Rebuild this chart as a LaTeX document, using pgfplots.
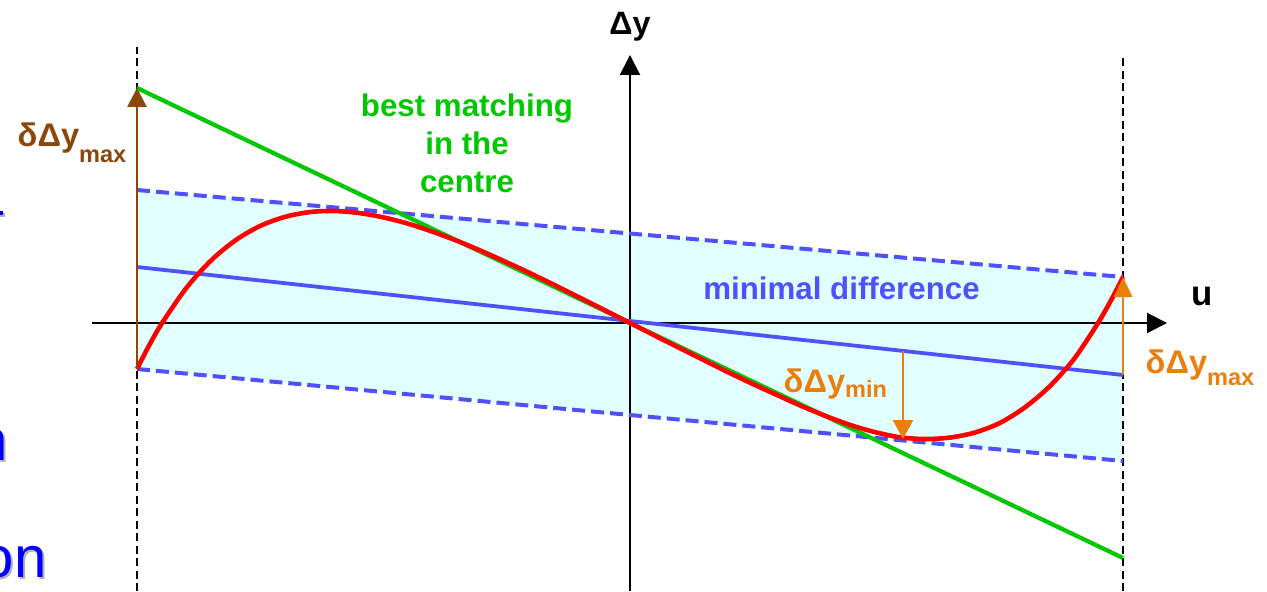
\documentclass[border=0pt]{standalone}
\usepackage{pgfplots}
\pgfplotsset{compat=1.18}
\usetikzlibrary{arrows.meta}
\usepackage{fontspec}
\setmainfont{Liberation Sans}
\definecolor{redc}{RGB}{255,0,0}
\definecolor{greenc}{RGB}{0,200,0}
\definecolor{bluec}{RGB}{80,80,255}
\definecolor{cyanfill}{RGB}{226,255,255}
\definecolor{brownc}{RGB}{140,70,10}
\definecolor{orangec}{RGB}{236,126,12}
\definecolor{slideblue}{RGB}{0,0,255}
\pgfplotstableread{
x y
-493 -46
-488 -36.1
-480.7 -22.1
-468.35 -0.7
-443.7 35.0
-419 62.5
-394.4 82.8
-369.75 97.1
-345.1 106.1
-320.45 110.9
-295.8 112.0
-271.15 110.0
-246.5 105.6
-221.85 99.3
-197.2 91.2
-172.55 82.0
-147.9 71.7
-123.25 60.7
-98.6 49.2
-73.95 37.2
-49.3 24.9
-24.65 12.5
0 0
24.65 -12.5
49.3 -24.9
73.95 -37.2
98.6 -49.5
123.25 -61.2
148 -72.5
172.55 -83.5
197 -93.5
221.85 -102.5
246.5 -109.5
271.15 -114.5
296 -116
320.45 -114.5
345 -109.5
369.75 -100
394 -85
419 -64
444 -36
468 0
480.7 22.1
488 36.1
493 46
}\redcurve
\begin{document}
\begin{tikzpicture}
\useasboundingbox (0,0) rectangle (126.7mm,59.1mm);
\clip (0,0) rectangle (126.7mm,59.1mm);
\begin{axis}[x=0.1mm,y=0.1mm,xmin=-630,xmax=637,ymin=-268,ymax=323,
  hide axis,clip=false,at={(0,0)},anchor=south west,scale only axis]
% band
\addplot[draw=none,fill=cyanfill] coordinates {(-493,133) (493,46) (493,-138) (-493,-46)};
% vertical dashed limits
\addplot[black,line width=0.22mm,dash pattern=on 0.8mm off 0.45mm] coordinates {(-493,-268) (-493,276)};
\addplot[black,line width=0.22mm,dash pattern=on 0.8mm off 0.45mm] coordinates {(493,-268) (493,268)};
% axes
\addplot[black,line width=0.2mm,-{Triangle[width=2mm,length=2mm]}] coordinates {(-538,0) (537,0)};
\addplot[black,line width=0.2mm,-{Triangle[width=2mm,length=2mm]}] coordinates {(0,-268) (0,268)};
% dashed band edges
\addplot[bluec,line width=0.4mm,dash pattern=on 1.3mm off 0.6mm] coordinates {(-493,133) (493,46)};
\addplot[bluec,line width=0.4mm,dash pattern=on 1.3mm off 0.6mm] coordinates {(-493,-46) (493,-138)};
% minimal difference line
\addplot[bluec,line width=0.38mm] coordinates {(-493,56) (493,-52)};
% best matching in the centre
\addplot[greenc,line width=0.42mm] coordinates {(-493,235) (493,-235)};
% red curve
\addplot[redc,line width=0.46mm,smooth] table {\redcurve};
% arrows
\addplot[brownc,line width=0.28mm,-{Triangle[width=1.9mm,length=1.9mm]}] coordinates {(-493,-46) (-493,235)};
\addplot[orangec,line width=0.28mm,-{Triangle[width=1.8mm,length=2mm]}] coordinates {(493,-52) (493,46)};
\addplot[orangec,line width=0.28mm,-{Triangle[width=2mm,length=1.9mm]}] coordinates {(273,-28) (273,-116)};
% labels
\node[anchor=base,inner sep=0,font=\bfseries\fontsize{9.2}{10}\selectfont] at (axis cs:0,288) {Δy};
\node[anchor=base,inner sep=0,font=\bfseries\fontsize{9.9}{11}\selectfont] at (axis cs:572,18) {u};
\node[anchor=base,inner sep=0,text=greenc,font=\bfseries\fontsize{8.9}{10}\selectfont] at (axis cs:-163,206) {best matching};
\node[anchor=base,inner sep=0,text=greenc,font=\bfseries\fontsize{8.9}{10}\selectfont] at (axis cs:-163,168) {in the};
\node[anchor=base,inner sep=0,text=greenc,font=\bfseries\fontsize{8.9}{10}\selectfont] at (axis cs:-163,130) {centre};
\node[anchor=base,inner sep=0,text=bluec,font=\bfseries\fontsize{8.9}{10}\selectfont] at (axis cs:211.5,24) {minimal difference};
\node[anchor=base west,inner sep=0,text=brownc,font=\bfseries\fontsize{9.3}{10}\selectfont] at (axis cs:-613,176) {δΔy\raisebox{-1.6mm}{\fontsize{6.7}{7}\selectfont max}};
\node[anchor=base west,inner sep=0,text=orangec,font=\bfseries\fontsize{9.3}{10}\selectfont] at (axis cs:153,-69) {δΔy\raisebox{-0.5mm}{\fontsize{6.7}{7}\selectfont min}};
\node[anchor=base west,inner sep=0,text=orangec,font=\bfseries\fontsize{9.3}{10}\selectfont] at (axis cs:515,-50) {δΔy\raisebox{-1.2mm}{\fontsize{6.7}{7}\selectfont max}};
% slide text fragments at the left edge
\node[anchor=base east,inner sep=0,text=black!30,font=\fontsize{16.5}{18}\selectfont] at (axis cs:-581,-256) {on};
\node[anchor=base east,inner sep=0,text=slideblue,font=\fontsize{16.5}{18}\selectfont] at (axis cs:-583,-254) {on};
\node[anchor=base east,inner sep=0,text=black!30,font=\fontsize{16.5}{18}\selectfont] at (axis cs:-620,-139) {n};
\node[anchor=base east,inner sep=0,text=slideblue,font=\fontsize{16.5}{18}\selectfont] at (axis cs:-622,-137) {n};
\fill[black!30] (axis cs:-630,106) rectangle (axis cs:-625,110);
\fill[slideblue] (axis cs:-630,108) rectangle (axis cs:-627,112);
\end{axis}
\end{tikzpicture}
\end{document}
